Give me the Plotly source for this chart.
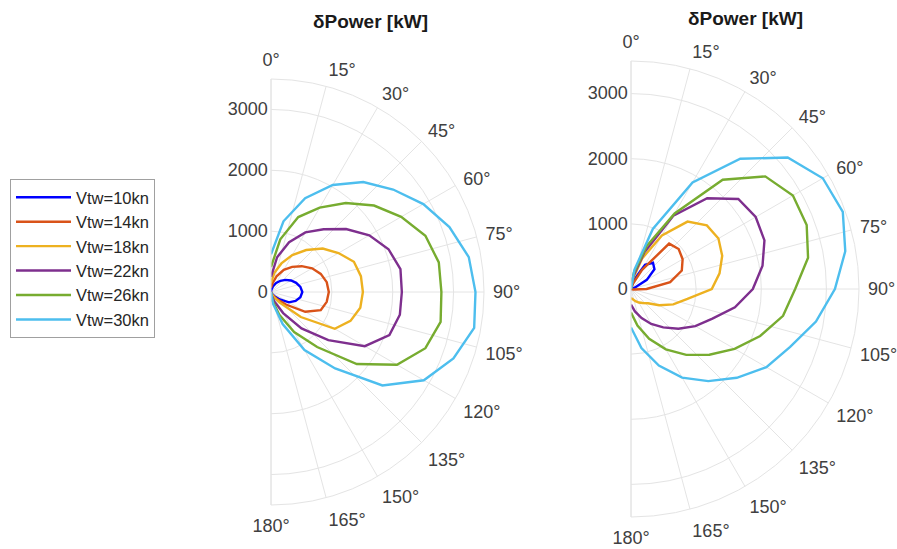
import plotly.graph_objects as go

# True wind angle (deg) at which the power delta was evaluated
theta = [0, 10, 20, 30, 40, 50, 60, 70, 80, 90, 100, 110, 120, 130, 140, 150, 160, 170, 180]

# Left polar: power delta [kW] per true wind speed
left_10 = [0, 40, 100, 170, 240, 310, 380, 440, 490, 515, 490, 430, 340, 190, 90, 40, 15, 5, 0]
left_14 = [70, 150, 280, 420, 540, 660, 780, 870, 930, 950, 930, 870, 650, 320, 150, 70, 30, 10, 0]
left_18 = [150, 320, 500, 700, 900, 1110, 1280, 1450, 1500, 1510, 1490, 1390, 1210, 640, 230, 100, 40, 10, 0]
left_22 = [250, 580, 870, 1130, 1345, 1610, 1865, 2055, 2160, 2150, 2150, 2070, 1780, 1230, 780, 400, 170, 60, 0]
left_26 = [410, 880, 1310, 1600, 1910, 2210, 2470, 2700, 2800, 2800, 2830, 2700, 2390, 1840, 1180, 760, 400, 150, 0]
left_30 = [620, 1180, 1640, 2030, 2360, 2620, 2890, 3120, 3300, 3360, 3390, 3190, 2900, 2390, 1640, 1100, 560, 200, 0]

# Right polar: power delta [kW] per true wind speed
right_10 = [0, 40, 160, 430, 525, 470, 280, 60, 10, 0, 0, 0, 0, 0, 0, 0, 0, 0, 0]
right_14 = [0, 20, 90, 340, 910, 955, 915, 830, 610, 240, 40, 0, 0, 0, 0, 0, 0, 0, 0]
right_18 = [0, 150, 500, 950, 1350, 1520, 1550, 1490, 1380, 1240, 880, 690, 500, 340, 280, 240, 200, 160, 140]
right_22 = [0, 200, 600, 1300, 1820, 2150, 2210, 2180, 2050, 1870, 1620, 1330, 1140, 950, 770, 620, 475, 350, 240]
right_26 = [0, 250, 700, 1340, 2190, 2690, 2870, 2870, 2760, 2520, 2370, 2110, 1836, 1570, 1320, 1070, 815, 570, 360]
right_30 = [0, 300, 980, 1890, 2610, 3140, 3400, 3460, 3340, 3130, 2883, 2600, 2400, 2120, 1845, 1570, 1250, 920, 590]

labels = ["Vtw=10kn", "Vtw=14kn", "Vtw=18kn", "Vtw=22kn", "Vtw=26kn", "Vtw=30kn"]
colors = ["#0000FF", "#D95319", "#EDB120", "#7E2F8E", "#77AC30", "#4DBEEE"]

left_series = [left_10, left_14, left_18, left_22, left_26, left_30]
right_series = [right_10, right_14, right_18, right_22, right_26, right_30]

angle_ticks = list(range(0, 181, 15))
radial_ticks = [0, 1000, 2000, 3000]

FONT = "Liberation Sans, Arial, Helvetica, sans-serif"
GRID = "#e4e4e4"
TXT = "#404040"
LW = 2.4

fig = go.Figure()
for name, col, rl, rr in zip(labels, colors, left_series, right_series):
    fig.add_trace(go.Scatterpolar(r=rl, theta=theta, mode="lines", name=name,
                                  line=dict(color=col, width=LW), subplot="polar"))
    fig.add_trace(go.Scatterpolar(r=rr, theta=theta, mode="lines", name=name,
                                  showlegend=False,
                                  line=dict(color=col, width=LW), subplot="polar2"))

W, H = 897, 549


def polar_layout(cx, cy, rad):
    return dict(
        domain=dict(x=[cx / W, (cx + rad) / W], y=[(H - cy - rad) / H, (H - cy + rad) / H]),
        sector=[-90, 90],
        bgcolor="white",
        angularaxis=dict(
            rotation=90, direction="clockwise",
            tickmode="array", tickvals=angle_ticks,
            ticktext=[f"{a}°" for a in angle_ticks],
            showgrid=True, gridcolor=GRID, gridwidth=1,
            showline=True, linecolor=GRID, linewidth=1,
            ticks="outside", ticklen=5, tickcolor="rgba(0,0,0,0)",
            tickfont=dict(family=FONT, size=18, color=TXT),
        ),
        radialaxis=dict(
            range=[0, 3500], tickmode="array", tickvals=radial_ticks,
            angle=90, side="counterclockwise", showline=False, tickangle=90,
            showgrid=True, gridcolor=GRID, gridwidth=1,
            ticks="", tickfont=dict(family=FONT, size=18, color=TXT),
        ),
    )


fig.update_layout(
    width=W, height=H,
    margin=dict(l=0, r=0, t=0, b=0),
    paper_bgcolor="white",
    polar=polar_layout(271, 292, 213),
    polar2=polar_layout(631, 289, 228),
    showlegend=True,
    legend=dict(
        x=10 / W, y=1 - 179 / H, xanchor="left", yanchor="top",
        bgcolor="white", bordercolor="#a0a0a0", borderwidth=1,
        tracegroupgap=0, itemwidth=55,
        font=dict(family=FONT, size=16.5, color="#262626"),
    ),
    annotations=[
        dict(text="<b>δPower [kW]</b>", x=370 / W, y=1 - 22 / H, xref="paper", yref="paper",
             xanchor="center", yanchor="middle",
             showarrow=False, font=dict(family=FONT, size=19, color="#1a1a1a")),
        dict(text="<b>δPower [kW]</b>", x=745 / W, y=1 - 18 / H, xref="paper", yref="paper",
             xanchor="center", yanchor="middle",
             showarrow=False, font=dict(family=FONT, size=19, color="#1a1a1a")),
    ],
)

fig.write_html("out.html")
